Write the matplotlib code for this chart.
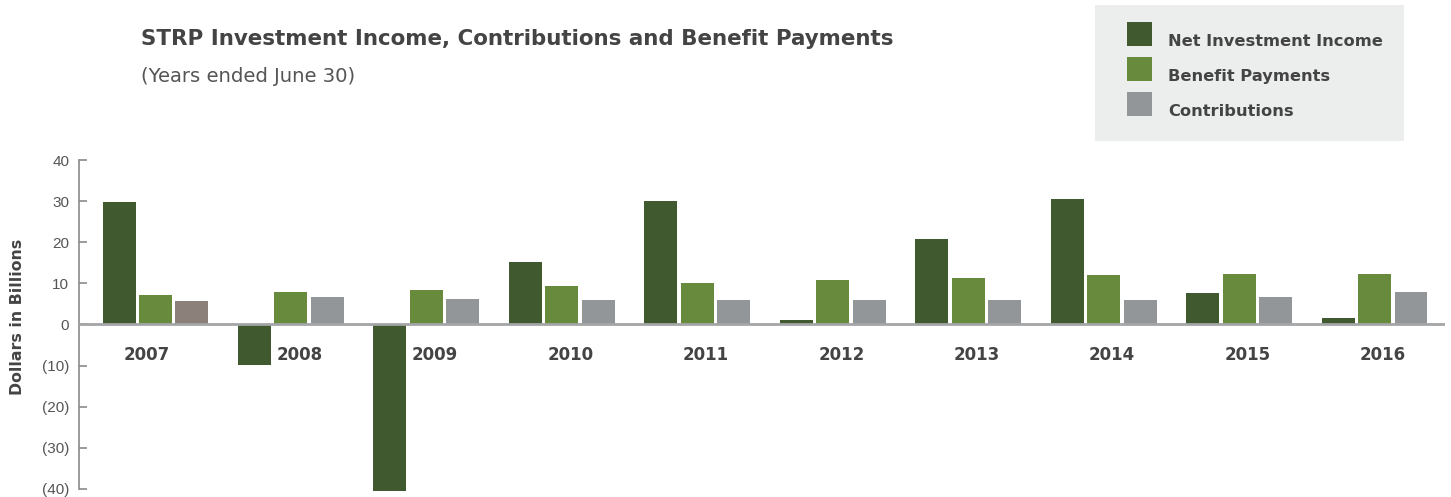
import matplotlib
matplotlib.use("Agg")
import matplotlib.pyplot as plt
from matplotlib.patches import Rectangle
import numpy as np

plt.rcParams['font.family'] = ['Liberation Sans', 'DejaVu Sans']
wide = ['DejaVu Sans']

years = ['2007', '2008', '2009', '2010', '2011', '2012', '2013', '2014', '2015', '2016']
net_income = [29.7, -9.8, -40.4, 15.1, 30.0, 1.0, 20.7, 30.5, 7.6, 1.7]
benefits = [7.1, 7.8, 8.5, 9.3, 10.0, 10.7, 11.2, 12.0, 12.4, 12.4]
contributions = [5.6, 6.6, 6.1, 5.85, 5.85, 5.85, 5.85, 5.85, 6.6, 8.0]
series_names = ['Net Investment Income', 'Benefit Payments', 'Contributions']

c_income = '#41592f'
c_benefit = '#678a3c'
c_contrib = '#939698'
c_contrib_first = '#8b817a'
txt = '#444444'

fig = plt.figure(figsize=(14.51, 4.97), dpi=100)
W, H = 1451, 497

# axes placed so that 40 sits at y=160px and -40 at y=489px
ymin, ymax = -41, 40.5
ppu = 4.1
top_px = 160 - (ymax - 40) * ppu
bot_px = 489 + (-40 - ymin) * ppu
ax = fig.add_axes([79 / W, (H - bot_px) / H, (1445 - 79) / W, (bot_px - top_px) / H])

x = np.arange(len(years))
off = 0.269
bw = 0.2435
ax.bar(x - off, net_income, bw, color=c_income, zorder=2)
ax.bar(x, benefits, bw, color=c_benefit, zorder=2)
cc = [c_contrib_first] + [c_contrib] * (len(years) - 1)
ax.bar(x + off, contributions, bw, color=cc, zorder=2)

ax.axhline(0, color='#a3a5a7', lw=2, zorder=3)

ax.set_xlim(-0.565, 9.52)
ax.set_ylim(ymin, ymax)
ax.set_yticks(range(-40, 41, 10))
ax.set_yticklabels([str(v) if v >= 0 else '(%d)' % -v for v in range(-40, 41, 10)])
ax.tick_params(axis='y', direction='in', length=6, width=1.2, color='#8a8a8a',
               pad=7, labelsize=11, labelcolor='#555555')
ax.set_xticks([])
for s in ['top', 'right', 'bottom']:
    ax.spines[s].set_visible(False)
ax.spines['left'].set_bounds(-40, 40)
ax.spines['left'].set_color('#8a8a8a')
ax.spines['left'].set_linewidth(1.2)

# year labels under the zero line
nudge = {0: -0.13}
for i, y in enumerate(years):
    ax.text(i + 0.063 + nudge.get(i, 0), -7.4, y, ha='center', va='center',
            fontsize=12, fontweight='bold', color=txt, family=wide)

fig.text(18 / W, 1 - 317 / H, 'Dollars in Billions', rotation=90, ha='center',
         va='center', fontsize=11.3, fontweight='bold', color=txt, family=wide)

fig.text(141 / W, 1 - 39 / H, 'STRP Investment Income, Contributions and Benefit Payments',
         ha='left', va='center', fontsize=15.4, fontweight='bold', color=txt, family=wide)
fig.text(141 / W, 1 - 77 / H, '(Years ended June 30)', ha='left', va='center',
         fontsize=14.1, color='#555555', family=wide)

# legend panel
fig.patches.append(Rectangle((1095 / W, 1 - 141 / H), (1404 - 1095) / W, 136 / H,
                             transform=fig.transFigure, facecolor='#eceeed',
                             edgecolor='none', zorder=0))
for k, (name, col) in enumerate(zip(series_names, [c_income, c_benefit, c_contrib])):
    y0 = 22 + k * 35
    fig.patches.append(Rectangle((1127 / W, 1 - (y0 + 24) / H), 25 / W, 24 / H,
                                 transform=fig.transFigure, facecolor=col,
                                 edgecolor='none', zorder=1))
    fig.text(1168 / W, 1 - (y0 + 19) / H, name, ha='left', va='center',
             fontsize=11.7, fontweight='bold', color=txt, family=wide)

fig.savefig('out.png', dpi=100)
